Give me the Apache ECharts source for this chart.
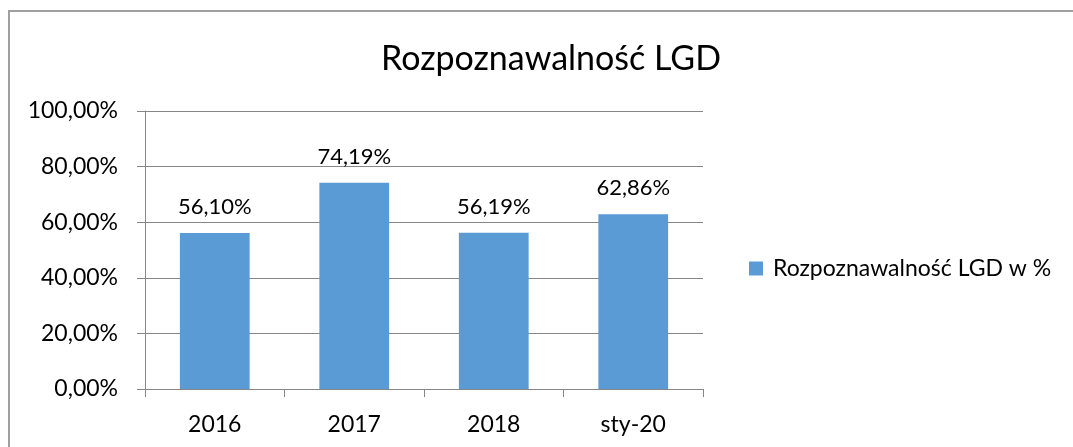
<!DOCTYPE html>
<html>
<head>
<meta charset="utf-8">
<script src="https://cdn.jsdelivr.net/npm/echarts@6/dist/echarts.min.js"></script>
<style>
html,body{margin:0;padding:0;background:#fff;}
#chart{width:1073px;height:447px;}
</style>
</head>
<body>
<div id="chart"></div>
<script>
const categories = ['2016', '2017', '2018', 'sty-20'];
const values = [56.10, 74.19, 56.19, 62.86];
const seriesName = 'Rozpoznawalność LGD w %';
const titleText = 'Rozpoznawalność LGD';

const fmt = v => v.toFixed(2).replace('.', ',') + '%';
const FONT = 'Lato';

const chart = echarts.init(document.getElementById('chart'));
chart.setOption({
  animation: false,
  backgroundColor: '#fff',
  textStyle: { fontFamily: FONT },
  title: {
    text: titleText,
    left: 546,
    textAlign: 'center',
    top: 37,
    textStyle: { fontFamily: FONT, fontSize: 34, fontWeight: 'normal', color: '#000' }
  },
  graphic: [{
    type: 'rect',
    shape: { x: 9, y: 11, width: 1100, height: 500 },
    style: { fill: 'none', stroke: '#a0a0a0', lineWidth: 2 },
    silent: true,
    z: -1
  }],
  legend: {
    left: 744,
    top: 252,
    itemWidth: 14,
    itemHeight: 14,
    icon: 'rect',
    textStyle: { fontFamily: FONT, fontSize: 23, color: '#000', padding: [0, 0, 0, 5] },
    data: [seriesName]
  },
  grid: { left: 145, right: 370, top: 111, bottom: 58, containLabel: false },
  xAxis: {
    type: 'category',
    data: categories,
    boundaryGap: true,
    axisLine: { show: true, lineStyle: { color: '#868686', width: 1 } },
    axisTick: { show: true, length: 8, alignWithLabel: false, lineStyle: { color: '#868686' } },
    axisLabel: { fontFamily: FONT, fontSize: 23, color: '#000', margin: 24 }
  },
  yAxis: {
    type: 'value',
    min: 0,
    max: 100,
    interval: 20,
    axisLine: { show: true, lineStyle: { color: '#868686', width: 1 } },
    axisTick: { show: true, length: 8, lineStyle: { color: '#868686' } },
    splitLine: { show: true, lineStyle: { color: '#868686', width: 1 } },
    axisLabel: { fontFamily: FONT, fontSize: 23, color: '#000', margin: 27, formatter: v => fmt(v) }
  },
  series: [{
    name: seriesName,
    type: 'bar',
    data: values,
    barWidth: '50%',
    itemStyle: { color: '#5b9bd5' },
    label: {
      show: true,
      position: 'top',
      distance: 15,
      fontFamily: FONT,
      fontSize: 22,
      color: '#000',
      formatter: p => fmt(p.value)
    }
  }]
});
</script>
</body>
</html>
